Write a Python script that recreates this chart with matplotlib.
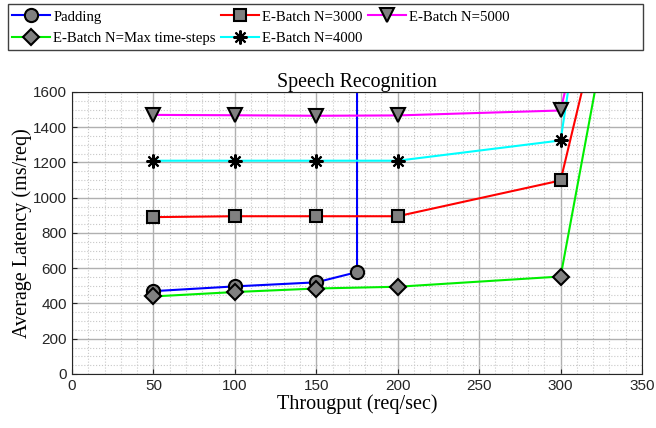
import numpy as np
import matplotlib.pyplot as plt
from matplotlib.ticker import MultipleLocator
from matplotlib.patches import Rectangle

# valores
thr = [50, 100, 150, 200, 300, 350]
pad_x = [50, 100, 150, 175, 175]
pad_y = [470, 497, 520, 578, 10000]
batch_max = [440, 465, 485, 495, 553, 3050]
batch_3000 = [890, 895, 895, 895, 1098, 3030]
batch_4000 = [1210, 1210, 1210, 1210, 1325, 4380]
batch_5000 = [1470, 1468, 1465, 1467, 1495, 3500]

serif = ['Liberation Serif', 'DejaVu Serif']
plt.rcParams['font.family'] = ['Liberation Sans', 'DejaVu Sans']

fig = plt.figure(figsize=(6.56, 4.28), dpi=100)
ax = fig.add_axes([0.1098, 0.1262, 0.8689, 0.6589])

mk = dict(markerfacecolor='#808080', markeredgecolor='black', markeredgewidth=1.5)
ax.plot(pad_x, pad_y, color='blue', lw=1.5, marker='o', markersize=9.5, label='Padding', **mk)
ax.plot(thr, batch_max, color='#00ee00', lw=1.5, marker='D', markersize=8.5,
        label='E-Batch N=Max time-steps', **mk)
ax.plot(thr, batch_3000, color='red', lw=1.5, marker='s', markersize=8.5, label='E-Batch N=3000', **mk)
ax.plot(thr, batch_4000, color='cyan', lw=1.5, marker=(8, 2, 0), label='E-Batch N=4000',
        markersize=10, markeredgecolor='black', markeredgewidth=1.5)
ax.plot(thr, batch_5000, color='magenta', lw=1.5, marker='v', markersize=10, label='E-Batch N=5000', **mk)

ax.set_xlim(0, 350)
ax.set_ylim(0, 1600)
ax.xaxis.set_major_locator(MultipleLocator(50))
ax.xaxis.set_minor_locator(MultipleLocator(10))
ax.yaxis.set_major_locator(MultipleLocator(200))
ax.yaxis.set_minor_locator(MultipleLocator(50))
ax.grid(which='major', color='#b0b0b0', lw=1.0, ls='-')
ax.grid(which='minor', color='#c8c8c8', lw=0.8, ls=':')
ax.set_axisbelow(True)
ax.tick_params(which='both', direction='in', labelsize=11, colors='#262626')
ax.tick_params(which='minor', length=0)
for s in ax.spines.values():
    s.set_color('#262626')

ax.set_title('Speech Recognition', family=serif, fontsize=14.3, pad=2)
ax.set_xlabel('Througput (req/sec)', family=serif, fontsize=14.5, labelpad=1)
ax.set_ylabel('Average Latency (ms/req)', family=serif, fontsize=14.5, labelpad=1)

# leyenda sin marco y un rectangulo aparte, como en matlab
leg = fig.legend(loc='upper left', bbox_to_anchor=(0.014, 0.983), ncol=3,
                 prop={'family': serif, 'size': 10.6}, frameon=False,
                 handlelength=2.6, columnspacing=0.35, handletextpad=0.2, borderpad=0.2,
                 labelspacing=0.55, borderaxespad=0)
fig.add_artist(Rectangle((8 / 656, 1 - 50 / 428), 635 / 656, 46 / 428, transform=fig.transFigure,
                         fill=False, edgecolor='#404040', lw=1.0))

fig.savefig('out.png', dpi=100)
